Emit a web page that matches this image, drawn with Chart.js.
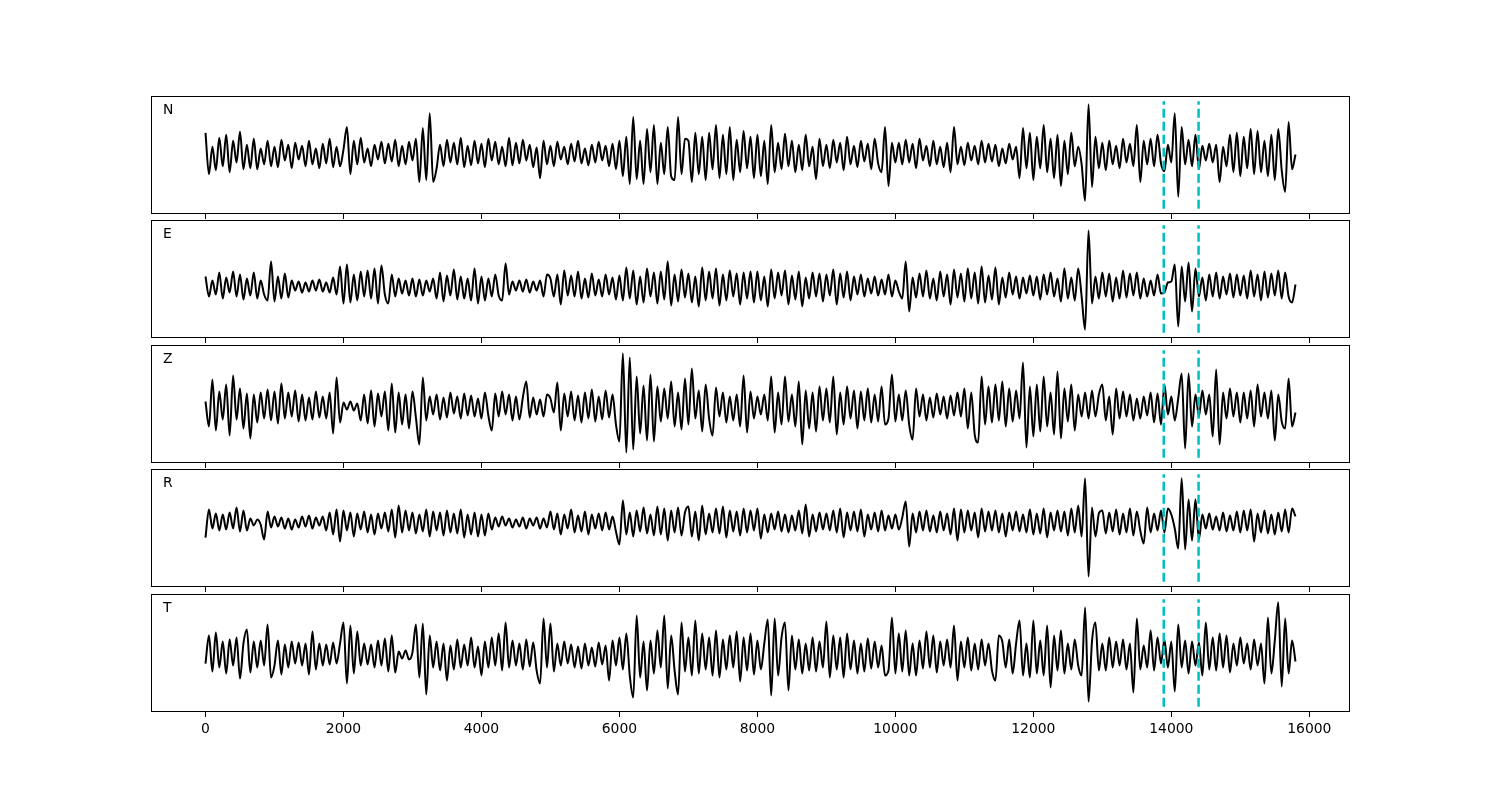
<!DOCTYPE html>
<html>
<head>
<meta charset="utf-8">
<script src="https://cdn.jsdelivr.net/npm/chart.js@4/dist/chart.umd.min.js"></script>
<style>
  body { margin: 0; background: #fff; }
  canvas { position: absolute; left: 0; }
</style>
</head>
<body>
<div id="fig"></div>
<script>
// components shown top to bottom
const components = ["N", "E", "Z", "R", "T"];

// samples every 50 units starting at 0
const sampleStep = 50;

const traceN = [
  22,-20,8,-16,17,-12,20,-18,14,-8,23,-15,10,-14,16,-15,6,-10,14,-12,
  8,-13,15,-6,10,-14,12,-5,9,-12,14,-10,6,-14,11,-9,16,-13,8,-12,
  5,28,-20,14,-10,17,-8,6,-12,10,-5,13,-9,11,-7,15,-12,9,-10,13,
  -6,16,-28,27,-26,42,-28,-14,10,-12,15,-8,12,-10,17,-13,9,-11,14,-9,
  11,-13,16,-6,13,-10,8,-12,17,-11,12,-9,15,-6,10,-13,7,-24,14,-10,
  9,-12,13,-5,8,-10,11,-7,14,-9,6,-11,10,-8,13,-6,9,-12,11,-15,
  14,-22,18,-30,38,-25,14,-30,26,-18,30,-30,12,-20,28,-22,-26,38,-20,16,
  14,-28,22,-20,18,-26,22,-15,30,-24,20,-20,28,-26,15,-18,24,-14,18,-24,
  20,-22,14,-30,30,-18,12,-15,21,-12,14,-18,10,-16,20,-12,8,-25,16,-12,
  10,-14,15,-8,12,-16,18,-10,9,-13,14,-7,11,-15,16,-9,-18,28,-32,12,
  -8,12,-10,15,-8,11,-14,16,-6,9,-12,14,-10,8,-13,12,-18,28,-10,8,
  -11,12,-6,9,-10,14,-8,11,-7,10,-12,6,-9,11,-5,8,-24,27,-14,22,
  -26,18,-14,30,-18,16,-24,20,-32,14,-20,22,-12,8,-10,-47,51,-33,18,-14,
  12,-16,14,-10,9,-14,16,-8,11,-12,30,-28,14,-10,16,-12,20,-9,-17,10,
  -8,42,-43,28,-10,15,-12,20,-15,9,-6,11,-8,10,-28,8,-12,20,-18,22,
  -22,18,-14,26,-20,24,-18,14,-22,20,-26,26,-16,-38,33,-15,0
];

const traceE = [
  10,-10,6,-8,14,-12,9,-6,15,-10,12,-13,8,-9,14,-12,6,-8,-14,25,
  -15,10,-12,13,-11,6,-4,5,-6,4,-5,6,-4,7,-5,4,-6,9,-8,20,
  -17,22,-16,12,-14,15,-10,16,-12,18,-17,21,-8,-17,12,-10,8,-7,6,-9,
  8,-10,7,-9,6,-5,8,-12,14,-15,11,-9,17,-13,10,-12,8,-14,18,-17,
  10,-14,8,-10,12,-9,-14,23,-8,5,-4,6,-5,7,-6,5,-4,6,-10,12,
  8,-10,12,-18,16,-9,11,-10,15,-12,8,-11,13,-9,7,-10,12,-8,9,-13,
  11,-14,19,-12,16,-18,10,-16,18,-10,14,-17,15,-13,25,-19,12,-15,17,-11,
  13,-16,10,-20,19,-14,15,-12,18,-19,12,-14,16,-10,13,-18,14,-12,15,-16,
  15,-14,10,-20,17,-12,14,-9,16,-18,11,-13,15,-20,9,-12,14,-10,13,-15,
  12,-9,17,-18,13,-11,15,-14,10,-8,12,-10,8,-7,10,-9,7,-8,12,-10,
  6,-5,-12,25,-25,9,-11,13,-10,16,-12,8,-14,15,-10,12,-18,17,-11,13,
  -15,18,-12,14,-17,20,-16,11,-13,19,-18,9,-11,14,-8,10,-12,9,-7,11,
  -9,10,-13,12,-8,14,-10,8,-15,18,-12,9,-14,18,-10,-43,56,-17,10,-12,
  14,-10,13,-15,9,-12,16,-11,13,-9,14,-12,8,-10,6,-9,12,-7,-6,4,
  5,22,-40,20,-15,24,-25,18,-10,9,-14,12,-10,14,-12,10,-8,13,-11,12,
  -9,11,-12,16,-10,12,-14,15,-11,13,-9,16,-12,14,-10,-16,2
];

const traceZ = [
  5,-20,27,-24,15,-13,22,-29,31,-13,18,-22,13,-32,12,-16,14,-12,17,-14,
  15,-17,23,-12,14,-10,16,-15,12,-14,9,-13,15,-11,10,-12,14,-27,29,-16,
  4,-3,5,-4,3,-14,12,-17,16,-20,13,-10,15,-24,23,-26,14,-18,12,-22,
  15,-11,-38,29,-14,10,-8,12,-13,9,-11,14,-7,10,-12,13,-9,11,-10,8,
  -12,14,-9,-24,13,-10,15,-8,12,-14,10,-13,9,25,-11,9,-8,7,-10,12,
  8,-6,24,-24,13,-10,15,-14,11,-16,14,-12,17,-15,10,-13,16,-11,12,-18,
  -35,53,-46,49,-43,30,-27,21,-34,32,-35,20,-15,18,-12,25,-20,14,-23,28,
  -18,38,-12,16,-25,22,-12,-29,19,-10,14,-16,10,-14,12,-20,31,-26,15,-12,
  10,-8,12,-14,30,-26,14,-18,30,-15,12,-20,25,-38,16,-22,14,-25,20,-14,
  18,-16,30,-28,14,-18,20,-12,16,-22,15,-14,18,-16,12,-15,20,-18,-12,32,
  -15,12,-14,16,-18,-33,18,-10,12,-14,9,-11,13,-8,10,-12,11,-9,14,-10,
  18,-22,14,-28,-36,30,-18,20,-16,22,-14,25,-20,18,-15,16,-12,44,-41,20,
  -30,22,-25,30,-20,14,-28,35,-32,18,-15,22,-24,12,-10,14,-12,16,-10,12,
  22,-14,10,-28,18,-12,15,-10,12,-14,8,-12,10,-9,14,-16,13,-18,22,-8,
  10,-14,8,33,-42,33,-20,12,-10,16,-8,12,-30,37,-38,14,-12,18,-10,14,
  -16,14,-12,16,-20,22,-10,14,-12,16,-34,12,-15,-22,28,-20,-6
];

const traceR = [
  -15,13,-6,9,-8,8,-7,10,-6,15,-9,12,-8,4,-3,3,-2,-17,11,-5,
  6,-4,5,-6,4,-7,3,-5,6,-4,7,-6,5,-3,6,-8,10,-12,13,-19,
  12,-8,10,-14,9,-7,11,-10,8,-12,9,-6,10,-9,13,-15,17,-10,12,-8,
  10,-11,8,-9,13,-14,11,-8,10,-13,12,-10,9,-11,13,-15,8,-12,10,-14,
  8,-13,9,-7,5,-4,6,-3,4,-5,3,-4,5,-6,4,-3,5,-6,4,-5,
  11,-7,9,-12,8,-6,13,-10,7,-9,11,-12,8,-6,9,-8,10,-7,6,-9,
  -22,22,-12,10,-14,12,-9,15,-11,8,-13,16,-12,14,-18,12,-10,15,-13,10,
  16,-14,11,-18,17,-12,9,-10,14,-11,16,-15,12,-9,11,-13,14,-10,12,-8,
  14,-16,8,-10,9,-7,11,-9,8,-10,7,-8,12,-11,18,-14,8,-9,10,-7,
  9,-8,12,-10,14,-15,10,-8,11,-9,13,-14,8,-7,10,-9,12,-8,7,-6,
  8,-7,5,21,-24,9,-10,11,-8,12,-9,7,-10,11,-8,9,-12,14,-18,13,
  -10,12,-8,10,-15,14,-9,11,-8,12,-10,9,-14,10,-8,11,-9,8,-10,13,
  -12,9,-11,14,-15,10,-8,12,-9,11,-13,14,-10,17,-14,44,-54,15,-14,9,
  12,-11,10,-9,13,-12,9,-10,14,-13,11,-8,-21,15,-10,9,-8,12,-10,14,
  8,-6,-26,44,-27,23,-18,23,-17,8,-6,9,-7,6,-8,10,-9,7,-8,11,
  -10,12,-8,13,-19,9,-10,12,-11,8,-12,10,-9,13,-10,14,6
];

const traceT = [
  -8,20,-16,23,-12,14,-18,16,-10,18,-23,12,26,-17,14,-12,15,-10,31,-22,
  -10,15,-19,11,-12,14,-8,13,-10,12,-19,24,-14,12,-10,11,-9,13,-8,12,
  33,-28,30,-18,24,-10,12,-9,11,-12,15,-10,17,-16,20,-17,4,-3,5,-4,
  3,31,-22,32,-39,20,-12,14,-15,12,-25,10,-14,16,-12,11,-10,18,-12,9,
  -20,14,-12,18,-10,22,-15,33,-12,15,-10,12,-14,16,-11,13,-15,-28,37,-12,
  32,-16,12,-10,14,-8,11,-12,9,-13,12,-10,8,-11,13,-9,10,-25,15,-10,
  18,-14,22,-20,-42,40,-22,14,-35,15,-18,25,-12,40,-33,20,-15,-39,33,-16,
  18,-20,35,-18,22,-14,18,-20,25,-22,16,-14,20,-12,24,-26,18,-15,22,-19,
  15,-14,12,36,-40,37,-20,18,33,-35,20,-14,16,-18,12,-15,18,-16,14,-12,
  34,-22,20,-14,18,-22,22,-14,15,-18,12,-16,17,-13,14,-12,10,-20,-15,38,
  -18,22,-16,25,-20,12,-20,15,-13,24,-12,20,-17,14,-10,16,-12,30,-25,14,
  -12,18,-15,12,-14,16,-10,12,-15,-25,20,14,-12,16,-18,12,35,-20,12,-22,
  35,-18,15,-20,30,-32,20,-15,25,-18,12,-14,16,-10,-20,48,-46,14,33,-15,
  12,-15,18,-12,14,-10,16,-14,12,-37,37,-14,10,-12,25,-15,18,-8,16,-12,
  14,-36,31,-12,15,-18,14,-10,13,-20,33,-14,18,-15,22,-12,20,-17,12,-10,
  18,-8,12,-14,16,-10,12,-28,38,-18,15,53,-31,37,-18,15,-6
];

const traces = [traceN, traceE, traceZ, traceR, traceT];

// vertical extent of the picked-window markers in each panel
const markerLow  = [-55, -46, -51, -59, -51];
const markerHigh = [ 54,  61,  56,  48,  56];
const pickTimes = [13890, 14395];

const tickValues = [0, 2000, 4000, 6000, 8000, 10000, 12000, 14000, 16000];
const xMin = -790;
const xMax = 16590;

// panel placement
const panelTops = [96, 220, 345, 469, 594];
const panelHeight = 118;
const fig = document.getElementById("fig");

const frameAndLabel = {
  id: "frameAndLabel",
  afterDatasetsDraw(chart, args, opts) {
    const { ctx, chartArea: a } = chart;
    ctx.save();
    ctx.strokeStyle = "#000";
    ctx.lineWidth = 1;
    ctx.strokeRect(a.left + 0.5, a.top + 0.5, a.right - a.left - 1, a.bottom - a.top - 1);
    ctx.fillStyle = "#000";
    ctx.font = "13.9px 'DejaVu Sans'";
    ctx.textBaseline = "alphabetic";
    ctx.fillText(opts.label, a.left + 0.01 * (a.right - a.left), a.top + 0.15 * (a.bottom - a.top));
    ctx.restore();
  }
};

components.forEach((name, k) => {
  const last = k === components.length - 1;
  const axisH = last ? 28 : 5;

  const canvas = document.createElement("canvas");
  canvas.width = 1500;
  canvas.height = 2 + panelHeight + axisH;
  canvas.style.top = (panelTops[k] - 2) + "px";
  fig.appendChild(canvas);

  const lo = markerLow[k], hi = markerHigh[k];
  const pad = 0.05 * (hi - lo);

  const datasets = [{
    data: traces[k].map((v, i) => ({ x: i * sampleStep, y: v })),
    borderColor: "#000",
    borderWidth: 2,
    pointRadius: 0,
    cubicInterpolationMode: "monotone",
    borderJoinStyle: "round",
    order: 1
  }];
  pickTimes.forEach(t => {
    datasets.push({
      data: [{ x: t, y: lo }, { x: t, y: hi }],
      borderColor: "#00bfbf",
      borderWidth: 2.5,
      borderDash: [9, 4],
      pointRadius: 0,
      order: 0
    });
  });

  new Chart(canvas, {
    type: "line",
    data: { datasets },
    options: {
      responsive: false,
      animation: false,
      events: [],
      layout: { padding: { left: 151, right: 150, top: 2, bottom: 0 } },
      plugins: {
        legend: { display: false },
        tooltip: { enabled: false },
        frameAndLabel: { label: name }
      },
      scales: {
        x: {
          type: "linear",
          min: xMin,
          max: xMax,
          afterBuildTicks: s => { s.ticks = tickValues.map(v => ({ value: v })); },
          afterFit: s => { s.height = axisH; },
          border: { display: false },
          grid: { drawOnChartArea: false, drawTicks: true, tickLength: 5, color: "#000", lineWidth: 1 },
          ticks: {
            display: last,
            color: "#000",
            padding: 4,
            maxRotation: 0,
            font: { family: "'DejaVu Sans'", size: 13.9 },
            callback: v => String(v)
          }
        },
        y: {
          display: false,
          min: lo - pad,
          max: hi + pad
        }
      }
    },
    plugins: [frameAndLabel]
  });
});
</script>
</body>
</html>
